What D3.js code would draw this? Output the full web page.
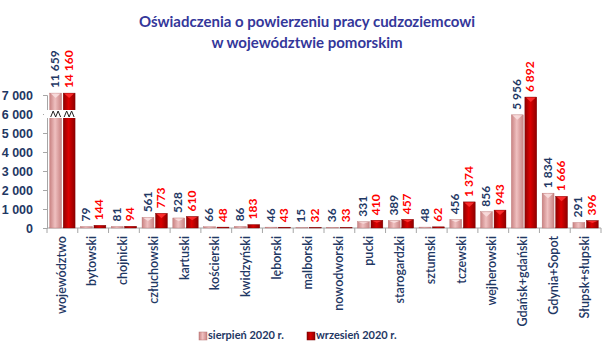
<!DOCTYPE html>
<html><head><meta charset="utf-8">
<script src="https://cdn.jsdelivr.net/npm/d3@7"></script>
<style>body{margin:0;background:#fff}svg{display:block}</style>
</head><body><div id="chart"></div>
<script>
const categories = ["województwo","bytowski","chojnicki","człuchowski","kartuski","kościerski","kwidzyński","lęborski","malborski","nowodworski","pucki","starogardzki","sztumski","tczewski","wejherowski","Gdańsk+gdański","Gdynia+Sopot","Słupsk+słupski"];
const sierpien = [11659,79,81,561,528,66,86,46,15,36,331,389,48,456,856,5956,1834,291];
const wrzesien = [14160,144,94,773,610,48,183,43,32,33,410,457,62,1374,943,6892,1666,396];
const seriesNames = ["sierpień 2020 r.","wrzesień 2020 r."];
const yTicks = [0,1000,2000,3000,4000,5000,6000,7000];
const breakCap = 7100;   // bars above the axis are cut here (broken axis)
const breakAt = 6000;

(function(){
const W = 615, H = 360;
const svg = d3.select("#chart").append("svg").attr("width", W).attr("height", H)
  .style("font-family", "Lato, 'Open Sans', sans-serif");

const defs = svg.append("defs");
function grad(id, edge, mid) {
  const g = defs.append("linearGradient").attr("id", id).attr("x1","0").attr("x2","1").attr("y1","0").attr("y2","0");
  g.append("stop").attr("offset","0%").attr("stop-color", edge);
  g.append("stop").attr("offset","45%").attr("stop-color", mid);
  g.append("stop").attr("offset","100%").attr("stop-color", edge);
}
grad("gPink", "#c98383", "#efc0c0");
grad("gRed", "#8e0000", "#dc0000");
const fills = ["url(#gPink)", "url(#gRed)"];
const capFills = ["#f8dede", "#ff3030"];
const labelColors = ["#1f3864", "#ff0000"];
const navy = "#1f3864";

const pLeft = 47, pRight = 601, pTop = 95, pBottom = 228;
const x0 = d3.scaleBand().domain(categories).range([pLeft, pRight]).padding(0);
const x1 = d3.scaleBand().domain([0,1]).range([0, x0.bandwidth()]).paddingInner(0.12).paddingOuter(0.2);
const y = d3.scaleLinear().domain([0, 7000]).range([pBottom, pTop]);

// title
svg.append("text").attr("x", 307).attr("y", 27).attr("text-anchor","middle")
  .attr("font-size", 15).attr("font-weight","bold").attr("fill","#34379a")
  .text("Oświadczenia o powierzeniu pracy cudzoziemcowi");
svg.append("text").attr("x", 307).attr("y", 48).attr("text-anchor","middle")
  .attr("font-size", 15).attr("font-weight","bold").attr("fill","#34379a")
  .text("w województwie pomorskim");

// y axis
const yAxis = svg.append("g").attr("transform", `translate(${pLeft},0)`)
  .call(d3.axisLeft(y).tickValues(yTicks).tickSize(4).tickPadding(10)
    .tickFormat(d => d3.format(",")(d).replace(/,/g, " ")));
yAxis.select(".domain").attr("stroke", "#a6a6a6");
yAxis.selectAll(".tick line").attr("stroke", "#a6a6a6");
yAxis.selectAll("text").attr("font-size", 12.5).attr("font-weight","bold").attr("fill", navy);

// x axis line + separators
svg.append("line").attr("x1", pLeft).attr("x2", pRight).attr("y1", pBottom).attr("y2", pBottom).attr("stroke","#a6a6a6");
svg.selectAll("line.sep").data(d3.range(categories.length + 1)).enter().append("line")
  .attr("x1", i => pLeft + i * x0.step()).attr("x2", i => pLeft + i * x0.step())
  .attr("y1", pBottom).attr("y2", pBottom + 5).attr("stroke", "#a6a6a6");

// bars
const data = categories.map((c, i) => ({c, vals: [sierpien[i], wrzesien[i]]}));
const groups = svg.selectAll("g.grp").data(data).enter().append("g").attr("class","grp")
  .attr("transform", d => `translate(${x0(d.c)},0)`);

groups.each(function(d) {
  const g = d3.select(this);
  d.vals.forEach((v, s) => {
    const shown = Math.min(v, breakCap);
    const bx = x1(s), bw = x1.bandwidth();
    const by = y(shown), bh = pBottom - by;
    g.append("rect").attr("x", bx).attr("y", by).attr("width", bw).attr("height", bh)
      .attr("fill", fills[s]).attr("stroke", s ? "#7a0000" : "#b97474").attr("stroke-width", 0.4);
    if (bh > 6) {
      const ch = Math.min(5, bh / 3);
      g.append("path")
        .attr("d", `M${bx + 1},${by + 0.5} L${bx + bw - 1},${by + 0.5} L${bx + bw / 2},${by + ch} Z`)
        .attr("fill", capFills[s]).attr("opacity", 0.9);
    }
    g.append("text")
      .attr("transform", `translate(${bx + bw / 2 + 0.5},${by - 5}) rotate(-90)`)
      .attr("dominant-baseline", "middle").attr("text-anchor", "start")
      .attr("font-size", 12).attr("font-weight", "bold").attr("fill", labelColors[s])
      .text(d3.format(",")(v).replace(/,/g, " "));
  });
  if (d.vals.some(v => v > 7000)) {
    const yb = y(breakAt);
    g.append("rect").attr("x", -3).attr("y", yb - 4).attr("width", x0.bandwidth() + 2).attr("height", 8)
      .attr("fill", "#fff");
    d.vals.forEach((v, s) => {
      const bx = x1(s), bw = x1.bandwidth();
      const n = 2, seg = (bw - 2) / (n * 2);
      let p = `M${bx + 1},${yb + 3}`;
      for (let k = 0; k < n * 2; k++) p += ` L${bx + 1 + (k + 1) * seg},${k % 2 === 0 ? yb - 3 : yb + 3}`;
      g.append("path").attr("d", p).attr("fill", "none").attr("stroke", "#222").attr("stroke-width", 1);
    });
  }
});

// category labels
svg.selectAll("text.cat").data(categories).enter().append("text").attr("class","cat")
  .attr("transform", c => `translate(${x0(c) + x0.bandwidth() / 2},${pBottom + 8}) rotate(-90)`)
  .attr("text-anchor", "end").attr("dominant-baseline", "middle")
  .attr("font-size", 12.5).attr("font-weight", 600).attr("fill", navy)
  .text(c => c);

// legend
const legend = svg.append("g").attr("transform", "translate(199,336)");
const lx = [0, 108];
seriesNames.forEach((n, s) => {
  legend.append("rect").attr("x", lx[s]).attr("y", -4).attr("width", 8).attr("height", 8)
    .attr("fill", fills[s]).attr("stroke", s ? "#7a0000" : "#b97474").attr("stroke-width", 0.5);
  legend.append("text").attr("x", lx[s] + 9).attr("y", 0).attr("dominant-baseline", "middle")
    .attr("font-size", 11).attr("font-weight", "bold").attr("fill", navy).text(n);
});
})();
</script></body></html>
